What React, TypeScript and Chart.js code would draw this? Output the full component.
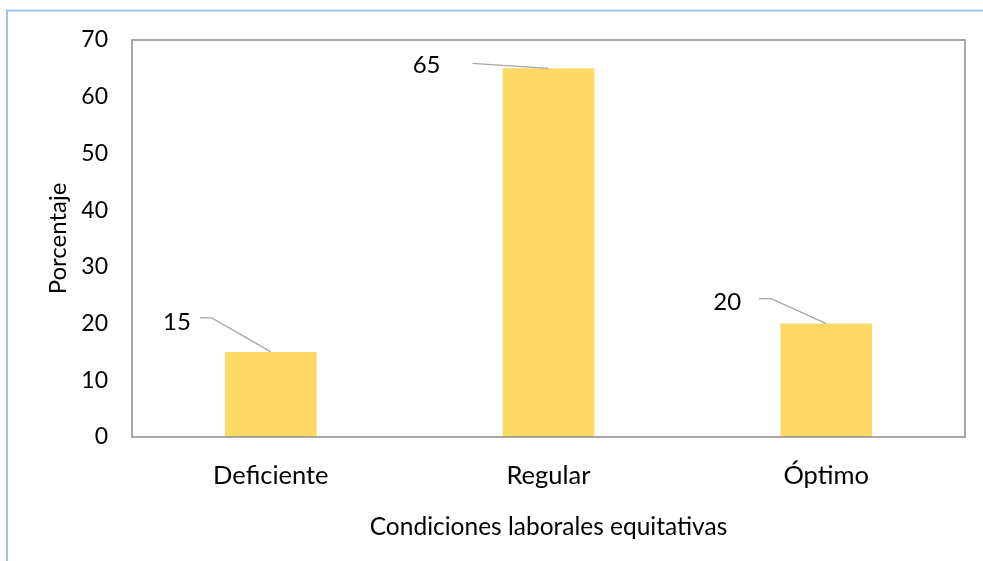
import React, { useEffect, useRef } from "react";
import { Chart, registerables } from "chart.js";

Chart.register(...registerables);

const categories = ["Deficiente", "Regular", "Óptimo"];
const values = [15, 65, 20];
const yTicks = [0, 10, 20, 30, 40, 50, 60, 70];
const xTitle = "Condiciones laborales equitativas";
const yTitle = "Porcentaje";

const FONT = "Lato, 'Liberation Sans', sans-serif";
const BAR_COLOR = "#FFD966";
const LEADER_COLOR = "#A6A6A6";
const BORDER_COLOR = "#8C8C8C";
const OUTER_COLOR = "#9DC3E6";

// label offsets relative to bar top-center
const labelOffsets = [
  { elbow: [-59, -34], start: [-71, -34], label: [-80, -30] },
  { elbow: [-76, -5], start: [-76, -5], label: [-108, -3] },
  { elbow: [-55, -25], start: [-67, -25], label: [-85, -21] },
];

const decorPlugin = {
  id: "decor",
  afterDraw(chart: any) {
    const { ctx, chartArea } = chart;
    ctx.save();
    ctx.strokeStyle = BORDER_COLOR;
    ctx.lineWidth = 1.5;
    ctx.strokeRect(chartArea.left, chartArea.top, chartArea.right - chartArea.left, chartArea.bottom - chartArea.top);
    ctx.strokeStyle = OUTER_COLOR;
    ctx.lineWidth = 2;
    ctx.beginPath();
    ctx.moveTo(7, chart.height);
    ctx.lineTo(7, 10.5);
    ctx.lineTo(chart.width, 10.5);
    ctx.stroke();
    const meta = chart.getDatasetMeta(0);
    meta.data.forEach((bar: any, i: number) => {
      const o = labelOffsets[i];
      const tx = bar.x;
      const ty = bar.y;
      ctx.strokeStyle = LEADER_COLOR;
      ctx.lineWidth = 1.3;
      ctx.beginPath();
      ctx.moveTo(tx + o.start[0], ty + o.start[1]);
      ctx.lineTo(tx + o.elbow[0], ty + o.elbow[1]);
      ctx.lineTo(tx, ty);
      ctx.stroke();
      ctx.fillStyle = "#000";
      ctx.font = `24px ${FONT}`;
      ctx.textAlign = "right";
      ctx.textBaseline = "middle";
      ctx.fillText(String(values[i]), tx + o.label[0], ty + o.label[1]);
    });
    ctx.restore();
  },
};

export default function App() {
  const ref = useRef<HTMLCanvasElement>(null);
  useEffect(() => {
    if (!ref.current) return;
    const chart = new Chart(ref.current, {
      type: "bar",
      data: {
        labels: categories,
        datasets: [
          {
            data: values,
            backgroundColor: BAR_COLOR,
            barPercentage: 0.33,
            categoryPercentage: 1,
          },
        ],
      },
      options: {
        responsive: false,
        animation: false,
        devicePixelRatio: 1,
        layout: { padding: { left: 0, top: 40, right: 18, bottom: 0 } },
        plugins: { legend: { display: false }, tooltip: { enabled: false } },
        scales: {
          x: {
            grid: { display: false, drawTicks: false },
            border: { display: false },
            ticks: { color: "#000", font: { family: FONT, size: 25.5 }, padding: 23 },
            title: {
              display: true,
              text: xTitle,
              color: "#000",
              font: { family: FONT, size: 24.5 },
              padding: { top: 0, bottom: 19 },
            },
            afterFit: (s: any) => {
              s.height = 124;
            },
          },
          y: {
            min: 0,
            max: 70,
            afterBuildTicks: (s: any) => {
              s.ticks = yTicks.map((v) => ({ value: v }));
            },
            grid: { display: false, drawTicks: false },
            border: { display: false },
            ticks: { color: "#000", font: { family: FONT, size: 23 }, padding: 24 },
            title: {
              display: true,
              text: yTitle,
              color: "#000",
              font: { family: FONT, size: 24 },
              padding: { top: 44, bottom: 0 },
            },
            afterFit: (s: any) => {
              s.width = 132;
            },
          },
        },
      },
      plugins: [decorPlugin],
    });
    return () => chart.destroy();
  }, []);
  return (
    <div style={{ position: "absolute", left: 0, top: 0, width: 983, height: 561, background: "#fff" }}>
      <canvas ref={ref} width={983} height={561} style={{ display: "block" }} />
    </div>
  );
}
